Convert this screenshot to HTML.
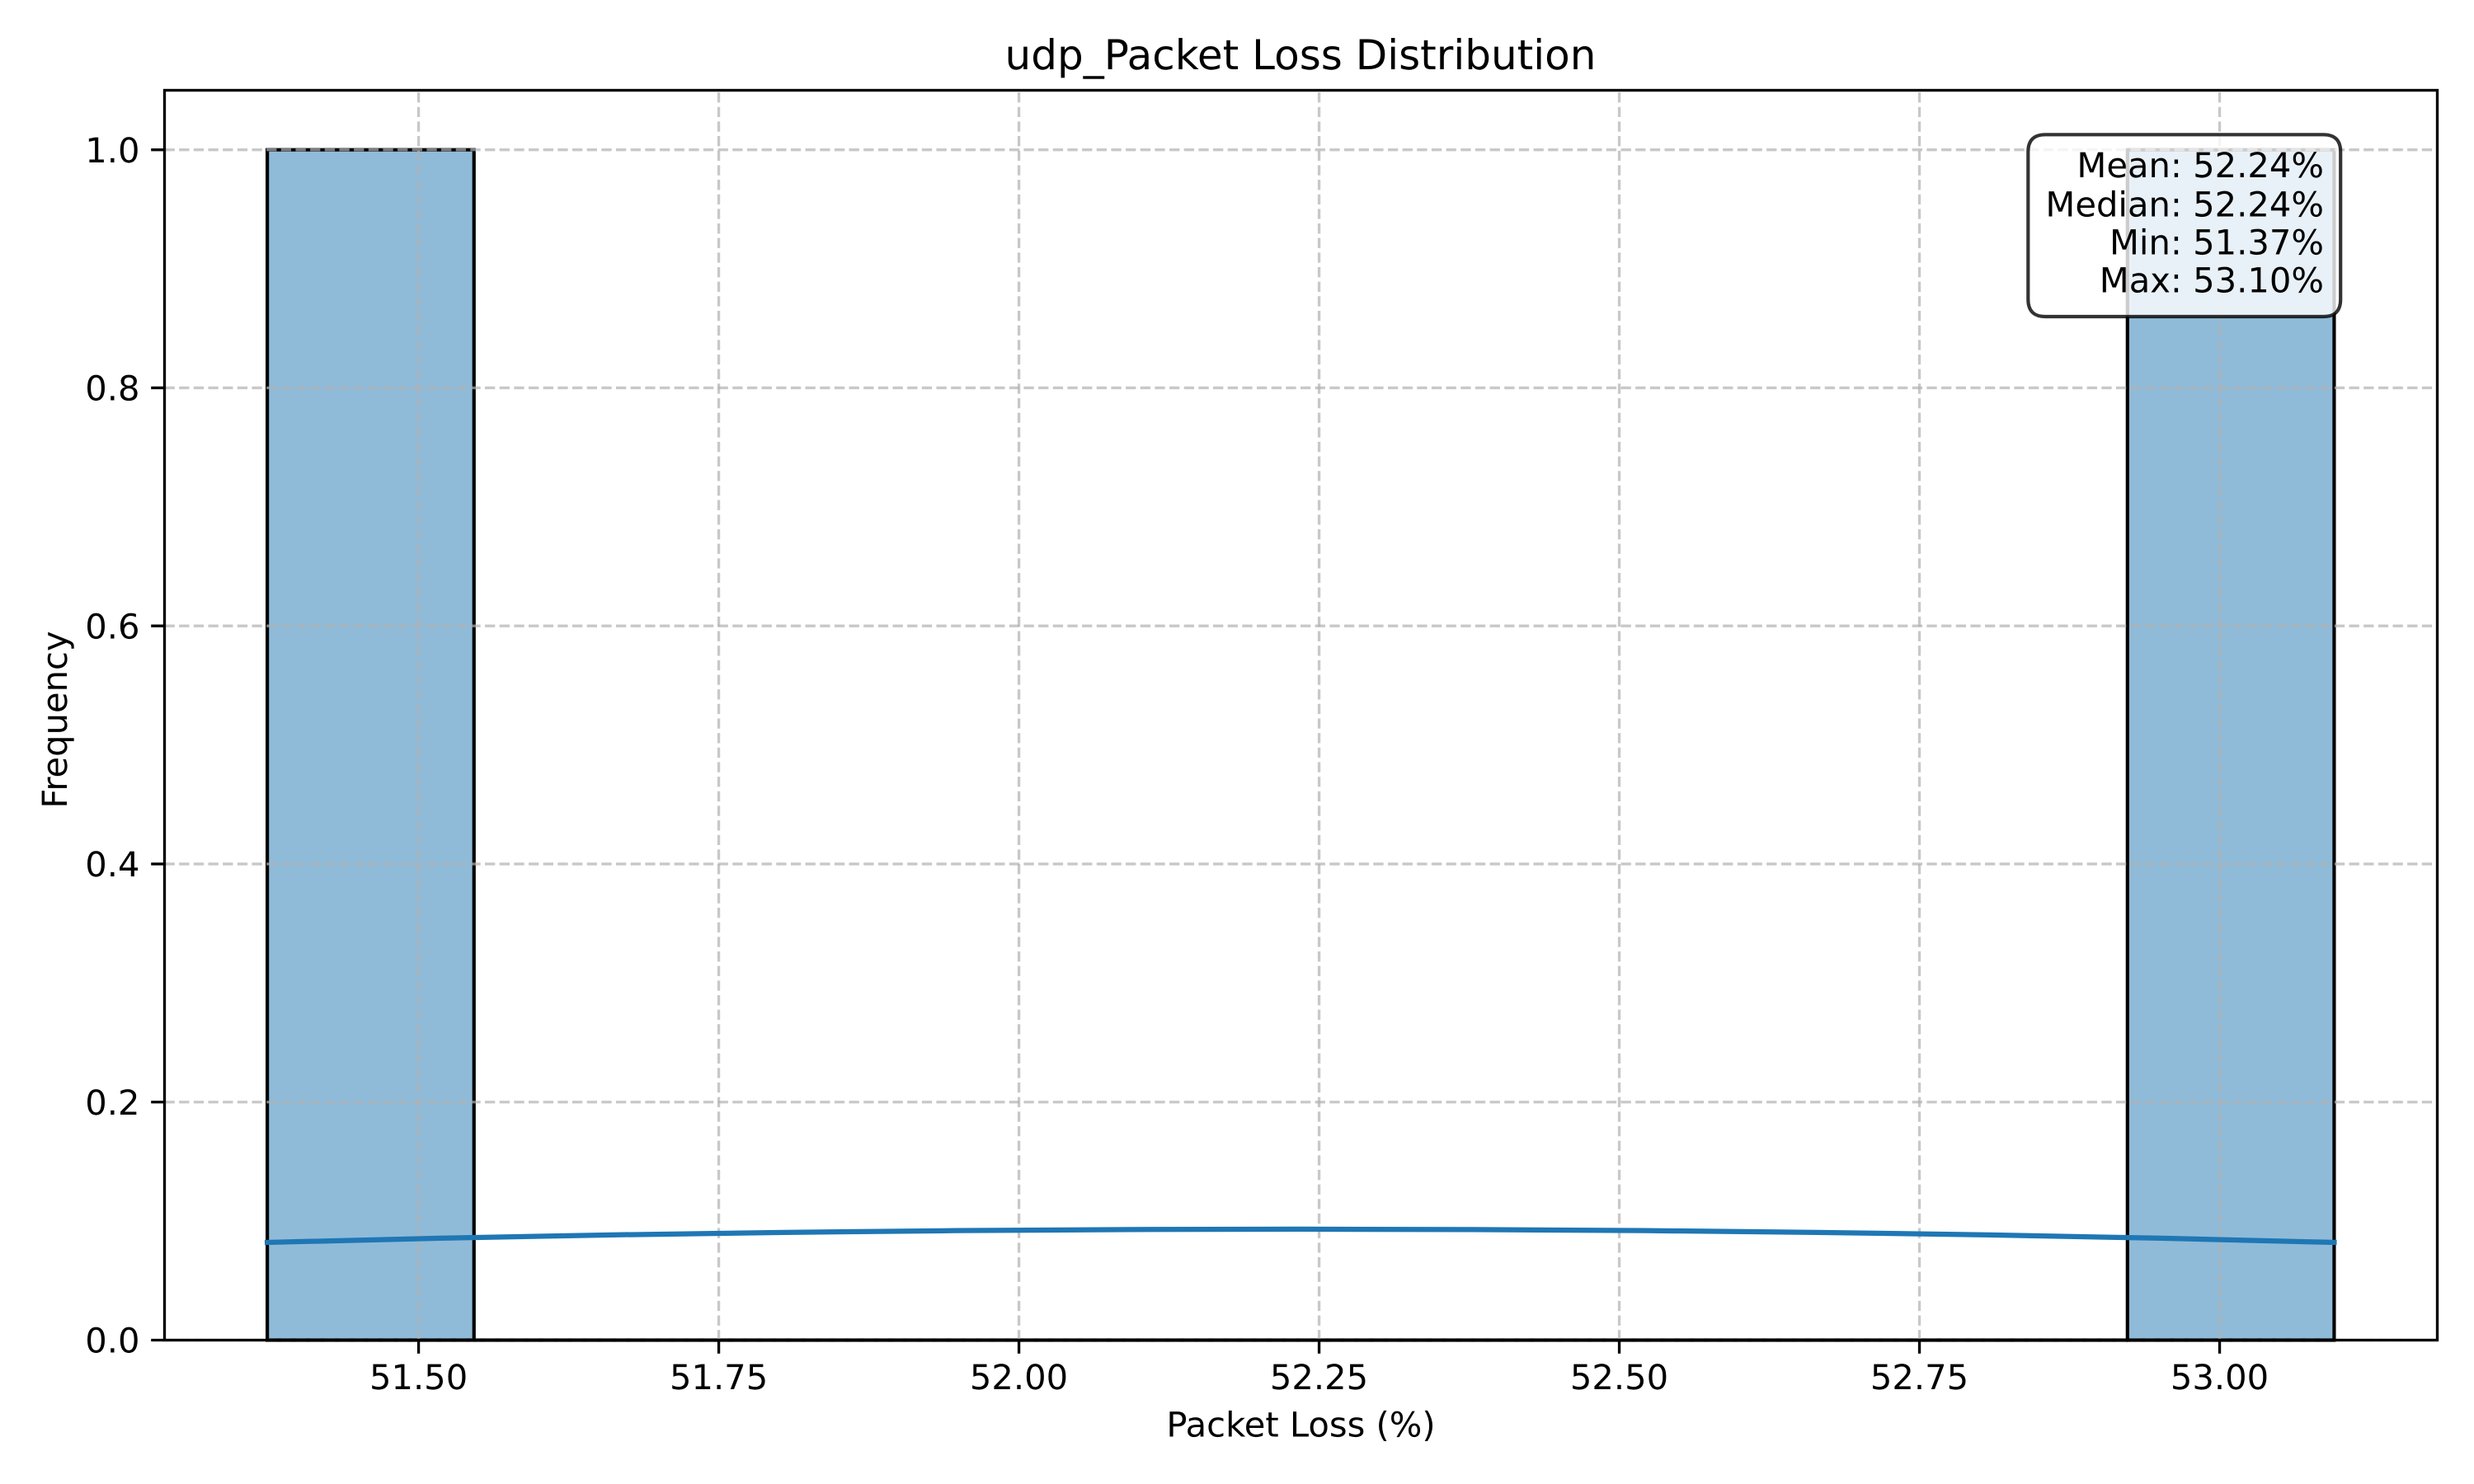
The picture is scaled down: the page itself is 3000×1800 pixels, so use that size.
<!DOCTYPE html>
<html>
<head>
<meta charset="utf-8">
<title>udp_Packet Loss Distribution</title>
<style>
  html, body { margin: 0; padding: 0; background: #fff; }
  #chart { display: block; width: 3000px; height: 1800px; }
  text { font-family: "DejaVu Sans", "Liberation Sans", sans-serif; fill: #000; text-rendering: geometricPrecision; }
</style>
</head>
<body>
<svg id="chart" xmlns="http://www.w3.org/2000/svg" width="3000" height="1800" viewBox="0 0 3000 1800"></svg>
<script>
const binCounts = [1, 0, 0, 0, 0, 0, 0, 0, 0, 1];
const dataMin = 51.374;
const dataMax = 53.0954;
const kdeX = [51.374, 51.517, 51.6605, 51.804, 51.9475, 52.091, 52.2345, 52.378, 52.5215, 52.665, 52.8085, 52.952, 53.0954];
const kdeY = [0.0821, 0.0856, 0.0884, 0.0905, 0.0920, 0.0929, 0.0932, 0.0929, 0.0920, 0.0905, 0.0884, 0.0856, 0.0821];
const xTicks = [51.5, 51.75, 52.0, 52.25, 52.5, 52.75, 53.0];
const xTickLabels = ['51.50', '51.75', '52.00', '52.25', '52.50', '52.75', '53.00'];
const yTicks = [0, 0.2, 0.4, 0.6, 0.8, 1.0];
const yTickLabels = ['0.0', '0.2', '0.4', '0.6', '0.8', '1.0'];
const statLines = ['Mean: 52.24%', 'Median: 52.24%', 'Min: 51.37%', 'Max: 53.10%'];

const plotLeft = 199.5, plotRight = 2955.5, plotTop = 109.5, plotBottom = 1625.5;
const xDomainMin = 51.2884, xDomainMax = 53.1813, yDomainMax = 1.05;
const xScale = v => plotLeft + (v - xDomainMin) / (xDomainMax - xDomainMin) * (plotRight - plotLeft);
const yScale = v => plotBottom - v / yDomainMax * (plotBottom - plotTop);

const svg = document.getElementById('chart');
const NS = 'http://www.w3.org/2000/svg';
function mk(tag, attrs, text) {
  const el = document.createElementNS(NS, tag);
  for (const k in attrs) el.setAttribute(k, attrs[k]);
  if (text !== undefined) el.textContent = text;
  svg.appendChild(el);
  return el;
}
const SW = 3.33;
const EDGE = 4.17;

// histogram bars
const binWidth = (dataMax - dataMin) / binCounts.length;
binCounts.forEach((c, i) => {
  const x0 = xScale(dataMin + i * binWidth), x1 = xScale(dataMin + (i + 1) * binWidth);
  const y0 = yScale(0), y1 = yScale(c);
  const bar = mk('path', { d: `M${x0} ${y0}L${x0} ${y1}L${x1} ${y1}L${x1} ${y0}Z`, fill: '#1f77b4', 'fill-opacity': 0.5, stroke: '#000', 'stroke-width': EDGE, 'stroke-linejoin': 'miter' });
  
  
});

// grid
const gridStyle = { stroke: '#b0b0b0', 'stroke-opacity': 0.7, 'stroke-width': SW, 'stroke-dasharray': '12.33 5.33' };
xTicks.forEach(t => {
  const g = mk('line', Object.assign({ x1: xScale(t), x2: xScale(t), y1: plotBottom, y2: plotTop }, gridStyle));
  
  
});
yTicks.forEach(t => {
  const g = mk('line', Object.assign({ x1: plotLeft, x2: plotRight, y1: yScale(t), y2: yScale(t) }, gridStyle));
  
  
});

// kde
const kdeLine = mk('polyline', { points: kdeX.map((x, i) => xScale(x) + ',' + yScale(kdeY[i])).join(' '), fill: 'none', stroke: '#1f77b4', 'stroke-width': 6.25, 'stroke-linecap': 'square', 'stroke-linejoin': 'round' });



// spines
const frame = mk('rect', { x: plotLeft, y: plotTop, width: plotRight - plotLeft, height: plotBottom - plotTop, fill: 'none', stroke: '#000', 'stroke-width': SW });



// ticks and labels
xTicks.forEach((t, i) => {
  const tick = mk('line', { x1: xScale(t), x2: xScale(t), y1: plotBottom, y2: plotBottom + 16.3, stroke: '#000', 'stroke-width': SW });
  
  
  const label = mk('text', { x: xScale(t), y: 1685, 'font-size': 41.67, 'text-anchor': 'middle' }, xTickLabels[i]);
  
  
});
yTicks.forEach((t, i) => {
  const tick = mk('line', { x1: plotLeft, x2: plotLeft - 16.3, y1: yScale(t), y2: yScale(t), stroke: '#000', 'stroke-width': SW });
  
  
  const label = mk('text', { x: 169.5, y: yScale(t) + 15.2, 'font-size': 41.67, 'text-anchor': 'end' }, yTickLabels[i]);
  
  
});

// titles
const title = mk('text', { x: 1577, y: 84, 'font-size': 50, 'text-anchor': 'middle' }, 'udp_Packet Loss Distribution');


const xTitle = mk('text', { x: 1577.5, y: 1742.7, 'font-size': 41.67, 'text-anchor': 'middle' }, 'Packet Loss (%)');


const yTitle = mk('text', { x: 0, y: 0, 'font-size': 41.67, 'text-anchor': 'middle', transform: 'translate(81 873) rotate(-90)' }, 'Frequency');



// stats box
const bl = 2459.3, br = 2838.2, bt = 163.3, bb = 384, r = 20.83;
const box = mk('path', {
  d: `M${bl + r} ${bt}L${br - r} ${bt}Q${br} ${bt} ${br} ${bt + r}L${br} ${bb - r}Q${br} ${bb} ${br - r} ${bb}L${bl + r} ${bb}Q${bl} ${bb} ${bl} ${bb - r}L${bl} ${bt + r}Q${bl} ${bt} ${bl + r} ${bt}Z`,
  fill: '#fff', 'fill-opacity': 0.8, stroke: '#000', 'stroke-opacity': 0.8, 'stroke-width': EDGE
});


const statBaselines = [215, 262.3, 308.3, 354.3];
statLines.forEach((s, i) => {
  const line = mk('text', { x: 2818, y: statBaselines[i], 'font-size': 41.67, 'text-anchor': 'end' }, s);
  
  
});
</script>
</body>
</html>
